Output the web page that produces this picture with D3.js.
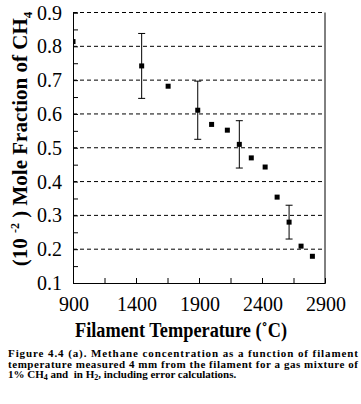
<!DOCTYPE html>
<html>
<head>
<meta charset="utf-8">
<script src="https://cdn.jsdelivr.net/npm/d3@7"></script>
<style>
body { margin: 0; background: #fff; }
svg { display: block; }
text { font-family: "Liberation Serif", "Times New Roman", serif; fill: #000; white-space: pre; }
</style>
</head>
<body>
<script>
// filament temperature (C) and methane mole fraction (10^-2)
var temps = [900, 1445, 1655, 1890, 2000, 2125, 2220, 2315, 2425, 2520, 2615, 2710, 2800];
var moleFrac = [0.814, 0.742, 0.682, 0.611, 0.569, 0.552, 0.510, 0.470, 0.443, 0.354, 0.280, 0.209, 0.179];
// error bars only on some points (null = none)
var errs = [null, 0.096, null, 0.086, null, null, 0.07, null, null, null, 0.05, null, null];
var xTicks = [900, 1400, 1900, 2400, 2900];
var yTicks = [0.1, 0.2, 0.3, 0.4, 0.5, 0.6, 0.7, 0.8, 0.9];
var captionLines = [
    "Figure 4.4 (a). Methane concentration as a function of filament",
    "temperature measured 4 mm from the filament for a gas mixture of"
];

var w = 361, h = 404;
var plotL = 73, plotR = 325, plotT = 12.5, plotB = 283;

var svg = d3.select("body").append("svg")
    .attr("width", w)
    .attr("height", h);

svg.append("rect").attr("width", w).attr("height", h).style("fill", "#fff");

var x = d3.scaleLinear().domain([900, 2900]).range([plotL, plotR]);
var y = d3.scaleLinear().domain([0.1, 0.9]).range([plotB, plotT]);

svg.append("clipPath").attr("id", "plotclip")
    .append("rect")
    .attr("x", plotL).attr("y", plotT)
    .attr("width", plotR - plotL).attr("height", plotB - plotT);

// dashed gridlines
svg.selectAll(".grid")
    .data(yTicks.slice(1))
    .enter()
    .append("line")
    .attr("class", "grid")
    .attr("x1", plotL).attr("x2", plotR)
    .attr("y1", function(d){ return y(d); })
    .attr("y2", function(d){ return y(d); })
    .style("stroke", "#000")
    .style("stroke-width", 1)
    .style("stroke-dasharray", "4,3");

// right border (solid)
svg.append("line")
    .attr("x1", plotR).attr("x2", plotR)
    .attr("y1", plotT).attr("y2", plotB)
    .style("stroke", "#000");

// minor ticks pointing inward
var xAxis = d3.axisBottom(x).tickValues(d3.range(900, 2901, 250)).tickSize(-5).tickFormat("");
var yAxis = d3.axisLeft(y).tickValues(d3.range(0.1, 0.901, 0.05)).tickSize(-5).tickFormat("");

var gx = svg.append("g").attr("transform", "translate(0," + plotB + ")").call(xAxis);
var gy = svg.append("g").attr("transform", "translate(" + plotL + ",0)").call(yAxis);
[gx, gy].forEach(function(g){
    g.select(".domain").attr("stroke", "#000").attr("stroke-width", 1);
    g.selectAll(".tick line").attr("stroke", "#000");
});

// tick labels
svg.selectAll(".ylab")
    .data(yTicks)
    .enter()
    .append("text")
    .attr("x", plotL - 11)
    .attr("y", function(d){ return y(d) + 7; })
    .attr("text-anchor", "end")
    .style("font-size", "20px")
    .text(function(d){ return d3.format(".1f")(d); });

svg.selectAll(".xlab")
    .data(xTicks)
    .enter()
    .append("text")
    .attr("x", function(d){ return x(d) + 1; })
    .attr("y", 311)
    .attr("text-anchor", "middle")
    .style("font-size", "20px")
    .text(function(d){ return d; });

// data
var pts = temps.map(function(t, i){ return { t: t, v: moleFrac[i], e: errs[i] }; });
var plot = svg.append("g").attr("clip-path", "url(#plotclip)");

var eb = plot.selectAll(".err")
    .data(pts.filter(function(d){ return d.e !== null; }))
    .enter()
    .append("g")
    .style("stroke", "#000")
    .style("stroke-width", 1);
eb.append("line")
    .attr("x1", function(d){ return x(d.t); })
    .attr("x2", function(d){ return x(d.t); })
    .attr("y1", function(d){ return y(d.v + d.e); })
    .attr("y2", function(d){ return y(d.v - d.e); });
eb.append("line")
    .attr("x1", function(d){ return x(d.t) - 3.5; })
    .attr("x2", function(d){ return x(d.t) + 3.5; })
    .attr("y1", function(d){ return y(d.v + d.e); })
    .attr("y2", function(d){ return y(d.v + d.e); });
eb.append("line")
    .attr("x1", function(d){ return x(d.t) - 3.5; })
    .attr("x2", function(d){ return x(d.t) + 3.5; })
    .attr("y1", function(d){ return y(d.v - d.e); })
    .attr("y2", function(d){ return y(d.v - d.e); });

plot.selectAll(".pt")
    .data(pts)
    .enter()
    .append("rect")
    .attr("x", function(d){ return x(d.t) - 2.5; })
    .attr("y", function(d){ return y(d.v) - 2.5; })
    .attr("width", 5)
    .attr("height", 5)
    .style("fill", "#000");

// axis titles
svg.append("text")
    .attr("x", 75)
    .attr("y", 337)
    .attr("textLength", 212)
    .attr("lengthAdjust", "spacingAndGlyphs")
    .style("font-size", "20px")
    .style("font-weight", "bold")
    .text("Filament Temperature (˚C)");

var yt = svg.append("text")
    .attr("transform", "translate(27,139) rotate(-90)")
    .attr("text-anchor", "middle")
    .style("font-size", "21px")
    .style("font-weight", "bold");
yt.append("tspan").text("(10 ");
yt.append("tspan").attr("dy", -8).style("font-size", "12px").text("-2");
yt.append("tspan").attr("dy", 8).text(" ) Mole Fraction of CH");
yt.append("tspan").attr("dy", 5).style("font-size", "13px").text("4");

// caption
var cap = svg.append("g").style("font-size", "11px").style("font-weight", "bold");
captionLines.forEach(function(s, i){
    cap.append("text")
        .attr("x", 8)
        .attr("y", 357 + i * 10.5)
        .attr("textLength", 350)
        .attr("lengthAdjust", "spacing")
        .text(s);
});
var l3 = cap.append("text").attr("x", 8).attr("y", 357 + 21);
l3.append("tspan").text("1% CH");
l3.append("tspan").attr("dy", 2).style("font-size", "8px").text("4");
l3.append("tspan").attr("dy", -2).text(" and  in H");
l3.append("tspan").attr("dy", 2).style("font-size", "8px").text("2");
l3.append("tspan").attr("dy", -2).text(", including error calculations.");
</script>
</body>
</html>
